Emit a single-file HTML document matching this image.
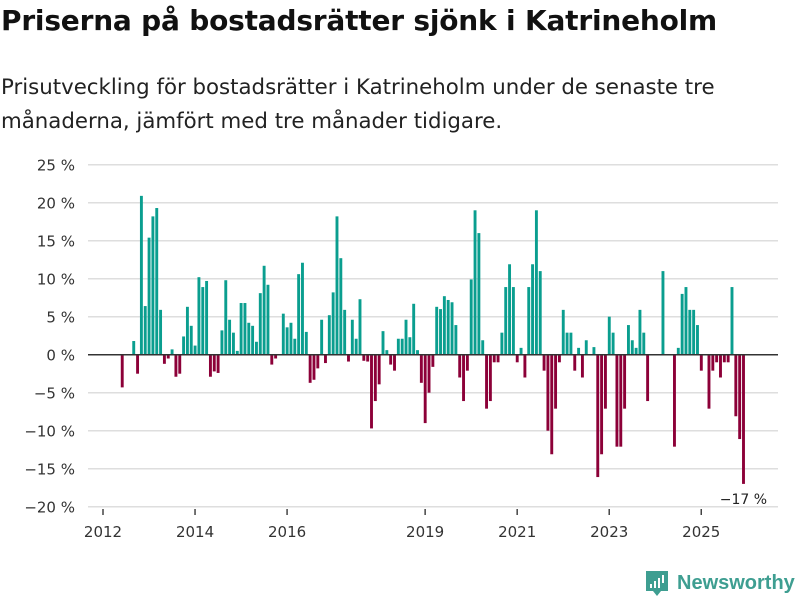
<!DOCTYPE html>
<html><head><meta charset="utf-8"><style>
body{margin:0;width:800px;height:600px;background:#fff;font-family:"DejaVu Sans","Liberation Sans",sans-serif;overflow:hidden;position:relative}
h1{position:absolute;left:1px;top:4px;margin:0;font-size:28px;font-weight:bold;color:#111;letter-spacing:-0.2px}
p{position:absolute;left:1px;top:71px;margin:0;font-size:21.3px;line-height:34px;color:#222;width:760px}
svg{position:absolute;left:0;top:0}
</style></head><body>
<h1>Priserna på bostadsrätter sjönk i Katrineholm</h1>
<p>Prisutveckling för bostadsrätter i Katrineholm under de senaste tre månaderna, jämfört med tre månader tidigare.</p>
<svg id="chart" width="800" height="600"></svg>
<script>
// monthly values starting Jan 2012 (index 0)
const values = [0,0,0,0,0,-4.3,0,0,1.8,-2.5,20.9,6.4,
15.4,18.2,19.3,5.9,-1.2,-0.5,0.7,-2.9,-2.5,2.4,6.3,3.8,
1.2,10.2,8.9,9.7,-2.9,-2.2,-2.4,3.2,9.8,4.6,2.9,0.5,
6.8,6.8,4.2,3.8,1.7,8.1,11.7,9.2,-1.3,-0.5,0,5.4,
3.6,4.2,2.1,10.6,12.1,3.0,-3.7,-3.3,-1.8,4.6,-1.1,5.2,
8.2,18.2,12.7,5.9,-0.9,4.6,2.1,7.3,-0.8,-0.9,-9.7,-6.1,
-3.9,3.1,0.6,-1.3,-2.1,2.1,2.1,4.6,2.3,6.7,0.6,-3.7,
-9.0,-5.0,-1.6,6.3,6.0,7.7,7.2,6.9,3.9,-3.0,-6.1,-2.1,
9.9,19.0,16.0,1.9,-7.1,-6.1,-1.0,-1.0,2.9,8.9,11.9,8.9,
-1.0,0.9,-3.0,8.9,11.9,19.0,11.0,-2.1,-10.0,-13.1,-7.1,-1.0,
5.9,2.9,2.9,-2.1,0.9,-3.0,1.9,0,1.0,-16.1,-13.1,-7.1,
5.0,2.9,-12.1,-12.1,-7.1,3.9,1.9,0.9,5.9,2.9,-6.1,0,
0,0,11.0,0,0,-12.1,0.9,8.0,8.9,5.9,5.9,3.9,
-2.1,0,-7.1,-2.1,-1.0,-3.0,-1.0,-1.0,8.9,-8.1,-11.1,-17];
const yTicks = [25,20,15,10,5,0,-5,-10,-15,-20];
const yTickLabels = ["25 %","20 %","15 %","10 %","5 %","0 %","−5 %","−10 %","−15 %","−20 %"];
const xYears = [2012,2014,2016,2019,2021,2023,2025];
const lastLabel = "−17 %";
const NS="http://www.w3.org/2000/svg";
const svg=document.getElementById('chart');
const FF='DejaVu Sans, Liberation Sans, sans-serif';
function y(v){return 354.7 - v*7.6;}
function xm(i){return 103 + i*3.835;}
function xy(yr){return xm((yr-2012)*12);}
function mk(t,a,p){const e=document.createElementNS(NS,t);for(const k in a)e.setAttribute(k,a[k]);(p||svg).appendChild(e);return e;}
yTicks.forEach((t,k)=>{
  if(t!==0){const l=mk('line',{x1:88,x2:778,y1:y(t),y2:y(t),stroke:'#dedede','stroke-width':1.5});
  
  }
  const tx=mk('text',{x:75,y:y(t)+6,'text-anchor':'end','font-size':15,fill:'#333','font-family':FF});
  tx.textContent=yTickLabels[k];
  
  
});
values.forEach((v,i)=>{
  if(v===0)return;
  const r=mk('rect',{x:xm(i)-1.4,width:2.9,y:v>0?y(v):y(0),height:Math.abs(y(v)-y(0)),fill:v>0?'#0a9e8f':'#8c0038'});
  
  
});
const z=mk('line',{x1:88,x2:778,y1:y(0),y2:y(0),stroke:'#333','stroke-width':1.5});


xYears.forEach(yr=>{
  const t=mk('line',{x1:xy(yr),x2:xy(yr),y1:509,y2:515,stroke:'#444','stroke-width':1.5});
  
  
  const tx=mk('text',{x:xy(yr),y:537,'text-anchor':'middle','font-size':15,fill:'#333','font-family':FF});
  tx.textContent=yr;
  
  
});
const li=values.length-1;
const lt=mk('text',{x:xm(li),y:y(values[li])+20,'text-anchor':'middle','font-size':14,fill:'#222','font-family':FF});
lt.textContent=lastLabel;


// logo
const g=mk('g',{});


mk('path',{d:'M646 571 h22 v20 h-7 l-4 5 l-4 -5 h-7 z',fill:'#3e9e91'},g);
[[650,584,2,4],[654,581,2,7],[658,578,2,10],[662,575,2,8]].forEach(b=>mk('rect',{x:b[0],y:b[1],width:b[2],height:b[3],fill:'#fff'},g));
const lg=mk('text',{x:677,y:589,'font-size':20,'font-weight':'bold',fill:'#3e9e91','font-family':'Liberation Sans, sans-serif'},g);
lg.textContent='Newsworthy';
</script>
</body></html>
